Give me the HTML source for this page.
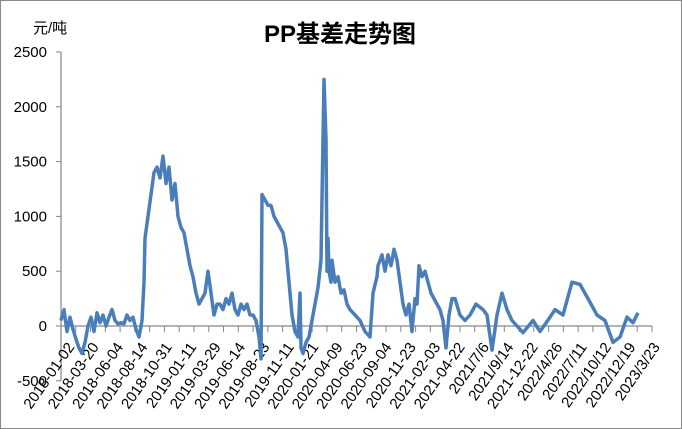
<!DOCTYPE html>
<html><head><meta charset="utf-8"><style>
html,body{margin:0;padding:0;background:#fff}
svg{display:block}
text{font-family:"Liberation Sans","Noto Sans CJK SC",sans-serif}
</style></head><body>
<svg id="chart" width="682" height="429" viewBox="0 0 682 429">
<rect x="0.5" y="0.5" width="681" height="428" fill="#fff" stroke="#888"/>
<text x="340" y="42" text-anchor="middle" font-size="24" font-weight="bold" fill="#000">PP基差走势图</text>
<text x="33" y="33" font-size="15" fill="#000">元/吨</text>
<g id="axes"></g>
<g id="series"></g>
</svg>
<script>
const yTicks=[2500,2000,1500,1000,500,0,-500];
const xLabels=["2018-01-02","2018-03-20","2018-06-04","2018-08-14","2018-10-31","2019-01-11","2019-03-29","2019-06-14","2019-08-23","2019-11-11","2020-01-21","2020-04-09","2020-06-23","2020-09-04","2020-11-23","2021-02-03","2021-04-22","2021/7/6","2021/9/14","2021-12-22","2022/4/26","2022/7/11","2022/10/12","2022/12/19","2023/3/23"];
const idx=[0,3,6,9,12,15,18,21,24,27,30,33,36,39,42,45,48,51,54,57,60,63,66,69,72,75,78,81,83,84,87,90,93,96,99,102,105,108,111,114,117,120,123,126,129,132,135,138,141,144,147,150,153,156,159,162,165,168,171,174,177,180,183,186,189,192,195,198,200,201,204,207,210,213,216,219,222,225,228,231,234,237,239,240,242,245,248,251,254,257,260,263,265,266,267,268,270,271,274,277,280,283,286,289,294,299,304,309,312,316,317,321,324,327,330,333,336,339,342,345,348,351,354,356,358,361,364,367,370,373,376,379,382,385,388,391,394,399,404,409,415,422,426,431,436,441,446,451,456,462,472,479,489,494,502,511,519,527,536,544,552,559,566,572,577,582,591];
const basis=[50,150,-50,80,-30,-120,-200,-250,-150,0,80,-50,120,30,100,0,80,150,50,20,30,20,100,50,80,-30,-100,50,400,800,1000,1200,1400,1450,1350,1550,1300,1450,1150,1300,1000,900,850,700,550,450,300,200,250,300,500,300,100,200,200,150,250,200,300,150,100,200,150,200,100,100,50,-100,-300,1200,1150,1100,1100,1000,950,900,850,700,400,100,-50,-100,300,-200,-250,-150,-100,50,200,350,600,2250,1700,500,800,500,400,600,400,450,300,330,200,150,100,50,-50,-100,300,450,550,650,500,650,550,700,600,400,200,100,200,-50,250,200,550,450,500,400,300,250,200,150,50,-200,100,250,250,100,50,100,200,150,100,-220,100,300,150,50,0,-60,50,-50,80,150,100,400,380,250,100,50,-150,-100,80,30,120];
const NS='http://www.w3.org/2000/svg';
const X0=61,X1=652,Y0=326,PPU=54.8/500,IDXMAX=591;
function xs(i){return X0+(i/IDXMAX)*(X1-X0)}
function ys(v){return Y0-v*PPU}
const axes=document.getElementById('axes');
function mk(tag,attrs,parent){const e=document.createElementNS(NS,tag);for(const k in attrs)e.setAttribute(k,attrs[k]);parent.appendChild(e);return e;}
const yAxis=mk('line',{x1:X0,y1:ys(2500),x2:X0,y2:ys(-500),stroke:'#868686','stroke-width':1.2},axes);


yTicks.forEach(v=>{
 const t=mk('line',{x1:X0-5,y1:ys(v),x2:X0,y2:ys(v),stroke:'#868686'},axes);
 
 
 const l=mk('text',{x:X0-14,y:ys(v)+5,'text-anchor':'end','font-size':15,fill:'#000'},axes);
 l.textContent=v;
 
 
});
const xAxis=mk('line',{x1:X0,y1:Y0,x2:X1,y2:Y0,stroke:'#868686','stroke-width':1.2},axes);


for(let k=0;k<=40;k++){
 const x=X0+k*(X1-X0)/40;
 const t=mk('line',{x1:x,y1:Y0,x2:x,y2:Y0+6,stroke:'#868686'},axes);
 
 
}
xLabels.forEach((s,k)=>{
 const x=75+k*24.4,y=347;
 const l=mk('text',{x:x,y:y,'text-anchor':'end','font-size':15,fill:'#000',transform:`rotate(-55 ${x} ${y})`},axes);
 l.textContent=s;
 
 
});
const d=idx.map((i,k)=>(k?'L':'M')+xs(i).toFixed(1)+' '+ys(basis[k]).toFixed(1)).join(' ');
const p=mk('path',{d:d,fill:'none',stroke:'#4a7ebb','stroke-width':3.5,'stroke-linejoin':'round'},document.getElementById('series'));


</script>
</body></html>
